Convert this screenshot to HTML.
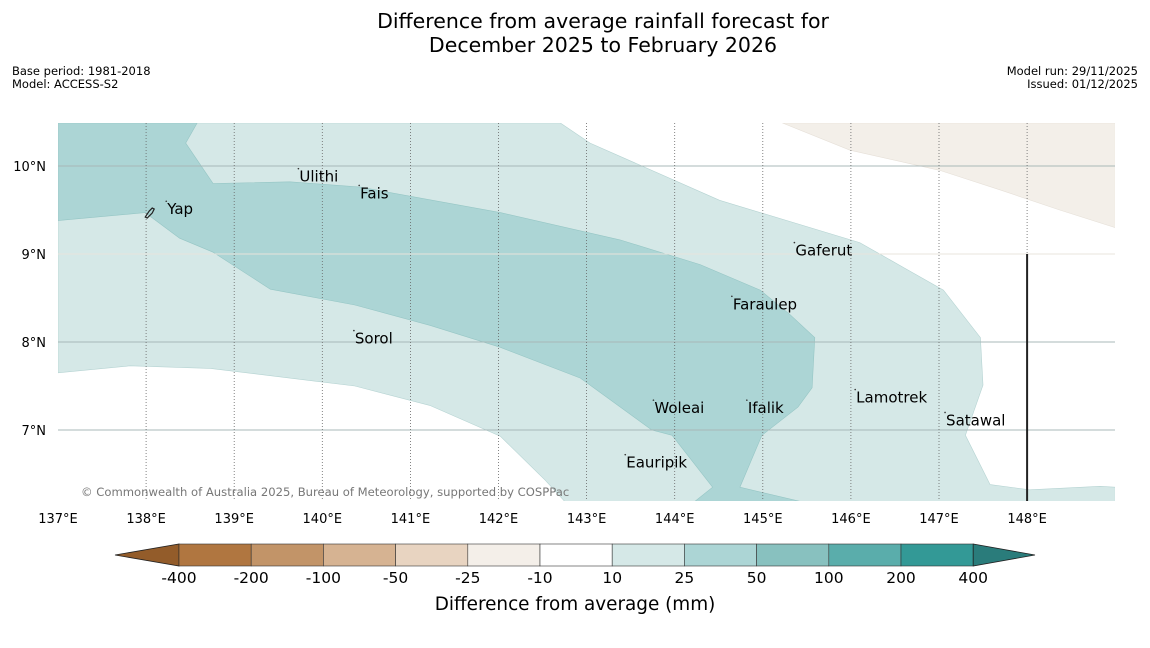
<!DOCTYPE html>
<html><head><meta charset="utf-8"><style>
body{margin:0;background:#fff;width:1150px;height:644px;overflow:hidden;font-family:"DejaVu Sans","Liberation Sans",sans-serif}
</style></head><body>
<svg id="chart" width="1150" height="644" xmlns="http://www.w3.org/2000/svg">
<text x="603" y="28" font-size="20.5" text-anchor="middle">Difference from average rainfall forecast for</text>
<text x="603" y="52" font-size="20.5" text-anchor="middle">December 2025 to February 2026</text>
<text x="12" y="75" font-size="11.5">Base period: 1981-2018</text>
<text x="12" y="88" font-size="11.5">Model: ACCESS-S2</text>
<text x="1138" y="75" font-size="11.5" text-anchor="end">Model run: 29/11/2025</text>
<text x="1138" y="88" font-size="11.5" text-anchor="end">Issued: 01/12/2025</text>
<g id="map"></g>
<g id="cbar"></g>
<text x="575" y="610" font-size="18.4" text-anchor="middle">Difference from average (mm)</text>
</svg>
<script>
const lonTicks=[137,138,139,140,141,142,143,144,145,146,147,148];
const latTicks=[10,9,8,7];
const lightZone=[[137,10.49],[142.70,10.49],[143.04,10.26],[144.51,9.61],[146.10,9.13],[146.61,8.84],[147.05,8.59],[147.47,8.05],[147.50,7.51],[147.30,6.94],[147.58,6.38],[148.03,6.32],[148.83,6.36],[149,6.35],[149,6.19],[142.75,6.19],[142.53,6.43],[142.02,6.93],[141.22,7.28],[140.37,7.50],[139.63,7.59],[138.73,7.70],[137.82,7.73],[137,7.65]];
const midZone=[[137,10.49],[138.58,10.49],[138.45,10.26],[138.76,9.80],[139.63,9.82],[140.43,9.76],[142.02,9.47],[143.38,9.16],[144.29,8.88],[144.97,8.59],[145.31,8.31],[145.59,8.05],[145.56,7.48],[145.40,7.26],[144.99,6.94],[144.74,6.35],[145.42,6.19],[144.23,6.19],[144.43,6.35],[143.97,6.94],[143.74,7.00],[142.93,7.59],[142.02,7.94],[141.22,8.19],[140.37,8.42],[139.41,8.60],[138.76,9.02],[138.38,9.18],[137.99,9.47],[137,9.38]];
const dryZone=[[145.22,10.49],[145.99,10.18],[147.01,9.95],[147.69,9.73],[148.37,9.50],[149,9.30],[149,10.49]];
const places=["Ulithi","Fais","Yap","Gaferut","Faraulep","Sorol","Lamotrek","Woleai","Ifalik","Satawal","Eauripik"];
const placeLon=[139.74,140.43,138.24,145.37,144.66,140.37,146.06,143.77,144.83,147.08,143.45];
const placeLat=[9.89,9.70,9.52,9.05,8.44,8.05,7.38,7.26,7.26,7.12,6.64];
const cbLabels=["-400","-200","-100","-50","-25","-10","10","25","50","100","200","400"];
const cbColors=["#b07640","#c29468","#d6b392","#e8d4c1","#f4efe9","#ffffff","#d5e8e7","#acd5d5","#88c1bf","#5aadab","#339996"];
const NS="http://www.w3.org/2000/svg";
const X0=58,X1=1115,Y0=123,Y1=501;
const x=lon=>58+(lon-137)*88.1;
const y=lat=>166+(10-lat)*88;
function mk(t,a,p){const e=document.createElementNS(NS,t);for(const k in a)e.setAttribute(k,a[k]);p.appendChild(e);return e;}
const map=document.getElementById('map');
const pts=arr=>arr.map(p=>x(p[0]).toFixed(1)+','+y(p[1]).toFixed(1)).join(' ');
const cp=mk('clipPath',{id:'clip'},map);mk('rect',{x:X0,y:Y0,width:X1-X0,height:Y1-Y0},cp);
const g=mk('g',{'clip-path':'url(#clip)'},map);
const bg=mk('rect',{x:X0,y:Y0,width:X1-X0,height:Y1-Y0,fill:'#fff'},g);

let p=mk('polygon',{points:pts(lightZone),fill:'#d5e8e7',stroke:'#b5d3d2','stroke-width':0.6},g);

p=mk('polygon',{points:pts(midZone),fill:'#acd5d5',stroke:'#96c6c5','stroke-width':0.6},g);

p=mk('polygon',{points:pts(dryZone),fill:'#f3efe9',stroke:'#e6e0d8','stroke-width':0.6},g);

latTicks.forEach(la=>{const l=mk('line',{x1:X0,x2:X1,y1:y(la),y2:y(la),stroke:la===9?'#e8e4dc':'#a8b8b8','stroke-width':1},g);

const t=mk('text',{x:46,y:y(la)+5,'font-size':13,'text-anchor':'end'},document.getElementById('chart'));t.textContent=la+'°N';
});
lonTicks.forEach(lo=>{if(lo>137){const l=mk('line',{x1:x(lo),x2:x(lo),y1:Y0,y2:Y1,stroke:'#666','stroke-width':0.8,'stroke-dasharray':'1,2'},g);
}
const t=mk('text',{x:x(lo),y:523,'font-size':13,'text-anchor':'middle'},document.getElementById('chart'));t.textContent=lo+'°E';
});
const b=mk('line',{x1:x(148),x2:x(148),y1:y(9),y2:Y1,stroke:'#222','stroke-width':2},g);

places.forEach((n,i)=>{const t=mk('text',{x:x(placeLon[i]),y:y(placeLat[i])+6,'font-size':15},g);t.textContent=n;

const d=mk('circle',{cx:x(placeLon[i])-1,cy:y(placeLat[i])-7,r:0.8,fill:'#333'},g);
});
const yi=mk('path',{d:`M${x(137.99)},${y(9.42)} l4,-6 l3,-3 l2,1 l-2,4 l-5,5 z`,fill:'none',stroke:'#222','stroke-width':1.2},g);

const cr=mk('text',{x:81,y:496,'font-size':11.6,fill:'#777'},g);cr.textContent='© Commonwealth of Australia 2025, Bureau of Meteorology, supported by COSPPac';

const cb=document.getElementById('cbar');const cx0=179,cw=72.2,cy0=544,ch=22;
let a=mk('polygon',{points:`115,555 ${cx0},${cy0} ${cx0},${cy0+ch}`,fill:'#935c2a',stroke:'#222','stroke-width':0.8},cb);

cbColors.forEach((c,i)=>{const r=mk('rect',{x:cx0+i*cw,y:cy0,width:cw,height:ch,fill:c,stroke:'#333','stroke-width':0.6},cb);
});
const ex=cx0+cbColors.length*cw;
a=mk('polygon',{points:`${ex},${cy0} 1035,555 ${ex},${cy0+ch}`,fill:'#2a7c7b',stroke:'#222','stroke-width':0.8},cb);

cbLabels.forEach((s,i)=>{const t=mk('text',{x:cx0+i*cw,y:583,'font-size':15.5,'text-anchor':'middle'},cb);t.textContent=s;
});
</script>
</body></html>
